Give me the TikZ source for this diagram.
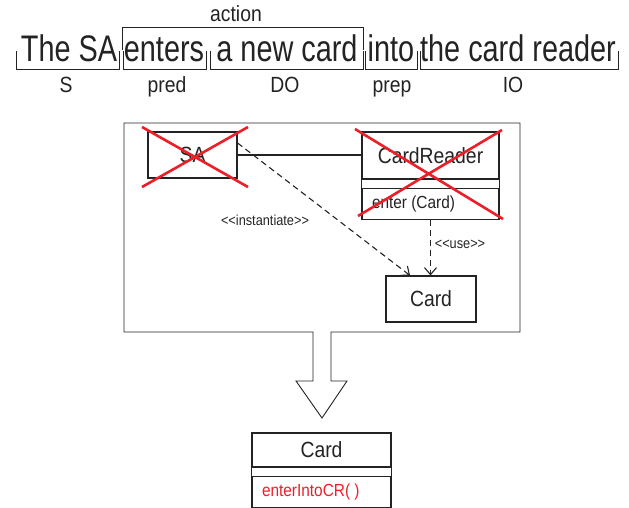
\documentclass[tikz,border=0pt]{standalone}
\usepackage{fontspec}
\setmainfont[FakeStretch=0.88]{Liberation Sans}
\newfontfamily\wordfont[FakeStretch=0.78]{Liberation Sans}
\usetikzlibrary{arrows.meta,positioning}
\definecolor{crossred}{RGB}{236,30,40}
\definecolor{ink}{RGB}{35,35,35}
\tikzset{word/.style={anchor=base,inner sep=0pt,text=ink,font=\wordfont\fontsize{37}{40}\selectfont},
role/.style={anchor=base,inner sep=0pt,text=ink,font=\fontsize{22}{24}\selectfont},
cls/.style={draw=ink,inner sep=0pt,text=ink,font=\fontsize{22}{24}\selectfont},
opsbox/.style={draw=ink,inner sep=0pt,below=8pt of #1},
ops/.style={anchor=west,inner sep=0pt,text=ink,font=\fontsize{17.5}{19}\selectfont},
stereo/.style={inner sep=0pt,text=ink,font=\fontsize{14.5}{16}\selectfont},
cross/.style={crossred,line width=2.6pt},
dep/.style={draw=ink,dash pattern=on 6pt off 4pt,-{Straight Barb[length=7pt,width=12pt]}}}

\begin{document}
\begin{tikzpicture}[x=1pt,y=-1pt,line width=1.1pt]
\useasboundingbox (0,0) rectangle (629,508);
% the sentence
\node[word] (w1) at (69,62) {The SA};
\node[word] (w2) at (164,62) {enters};
\node[word] (w3) at (287,62) {a new card};
\node[word] (w4) at (391,62) {into};
\node[word] (w5) at (518,62) {the card reader};
\foreach \a/\b in {16/119,123/206,210/363,365/417,420/618}
  \draw[ink,line width=0.9pt] (\a,51) |- (\b,69) -- (\b,51);
\draw[ink,line width=0.9pt] (122,50) |- (363,27) -- (363,50);
\node[role] (act) at (236,22) {action};
\node[role] (r1) at (66,93) {S};
\node[role] (r2) at (167,93) {pred};
\node[role] (r3) at (285,93) {DO};
\node[role] (r4) at (392,93) {prep};
\node[role] (r5) at (513,93) {IO};
% frame with the big arrow
\draw[ink,line width=0.9pt] (313,332) -- (124,332) -- (124,123) -- (520,123) -- (520,332)
  -- (331,332) -- (331,381) -- (347,381) -- (322,418) -- (296,381) -- (313,381) -- cycle;
% classes
\node[cls,minimum width=89,minimum height=46] (sa) at (192.5,155) {SA};
\node[cls,minimum width=137,minimum height=47] (cr) at (430.5,155.5) {CardReader};
\node[opsbox=cr,minimum width=137,minimum height=31] (crops) {};
\draw[ink] (cr.south west) -- (crops.north west) (cr.south east) -- (crops.north east);
\node[ops] (crop) at ([xshift=10]crops.west) {enter (Card)};
\node[cls,minimum width=90,minimum height=46] (card) at (431,299) {Card};
\draw[ink] (sa.east) -- (sa.east -| cr.west);
\draw[dep] ([yshift=12]sa.east) -- ([xshift=-21]card.north);
\node[stereo] (inst) at (265,220) {<{}<instantiate>{}>};
\draw[dep] (crops.south) -- (crops.south |- card.north);
\node[stereo] (use) at (460,244) {<{}<use>{}>};
% crossed out
\draw[cross] (142,127) -- (248,187) (142,187) -- (248,127);
\draw[cross] (355,129) -- (503,219) (358,216) -- (502,130);
% result
\node[cls,minimum width=139,minimum height=34] (cc) at (321.5,450) {Card};
\node[opsbox=cc,minimum width=139,minimum height=31] (ccops) {};
\draw[ink] (cc.south west) -- (ccops.north west) (cc.south east) -- (ccops.north east);
\node[ops,text=crossred] (ccop) at ([xshift=10]ccops.west) {enterIntoCR( )};
\end{tikzpicture}
\end{document}
